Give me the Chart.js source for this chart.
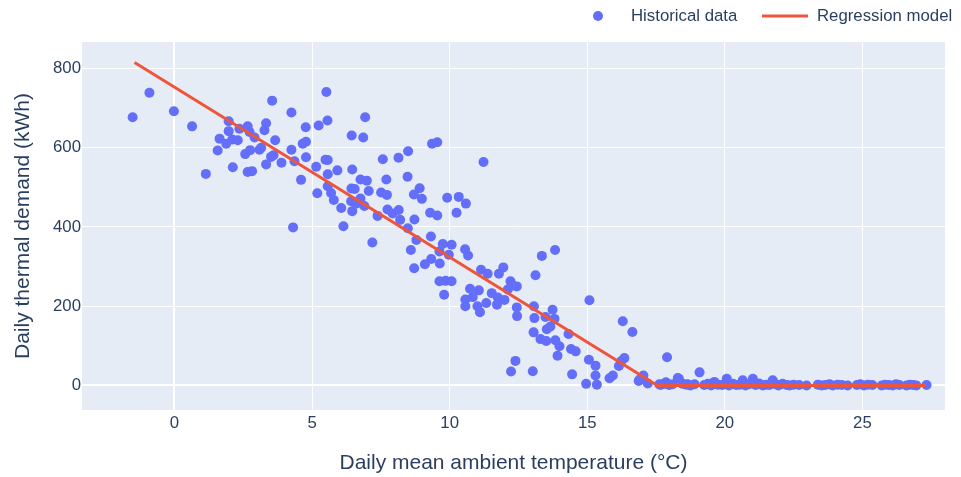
<!DOCTYPE html>
<html>
<head>
<meta charset="utf-8">
<script src="https://cdn.jsdelivr.net/npm/chart.js@4/dist/chart.umd.min.js"></script>
<style>
  html, body { margin: 0; padding: 0; background: #fff; }
  #wrap { position: relative; width: 961px; height: 477px; }
</style>
</head>
<body>
<div id="wrap"><canvas id="chart" width="961" height="477"></canvas></div>
<script>
// daily mean ambient temperature (°C) and daily thermal demand (kWh)
var tempC = [
  -1.52, -0.91, -0.02, 0.64, 1.14, 3.55, 4.25, 1.97, 1.97, 1.64, 1.57, 1.88, 2.10, 2.36, 2.30, 2.66, 2.73, 2.91, 3.27, 3.33,
  3.66, 2.57, 2.75, 3.09, 3.15, 3.51, 3.60, 3.33, 3.89, 2.12, 2.66, 2.82, 4.25, 4.36, 4.60, 4.31,
  5.52, 4.77, 5.24, 5.56, 6.93, 6.44, 6.86, 4.66, 4.78, 4.78, 5.49, 5.57, 5.15, 5.57, 5.92, 6.46, 7.57, 8.14, 8.49, 9.36,
  9.55, 11.23, 5.57, 5.19, 5.69, 5.79, 6.06, 6.46, 6.76, 6.99, 6.43, 6.55, 7.06, 6.42, 6.60, 6.76, 6.90, 7.70, 8.47, 7.51,
  7.72, 8.91, 8.70, 8.99, 7.74, 8.15, 7.93, 8.20, 7.38, 8.72, 9.29, 9.55, 9.91, 10.33, 10.59, 10.25, 6.14,
  7.19, 8.48, 9.32, 8.79, 8.59, 9.75, 10.07, 9.63, 9.97, 9.33, 9.10, 9.64, 8.71, 10.56, 10.67, 9.63, 9.85, 10.07, 9.80,
  11.14, 11.38, 11.79, 10.74, 11.06, 10.84, 10.57, 10.57, 11.01, 11.10, 11.33, 11.53, 11.72,
  11.95, 11.75, 11.99, 12.21, 12.44, 12.30, 12.11, 12.44, 12.45, 13.12, 13.35, 13.83, 13.06, 13.08, 13.48, 13.74, 13.81,
  13.05, 13.53, 13.66, 13.30, 13.51, 13.84, 13.99, 13.92, 14.32, 14.41, 14.58, 12.39, 12.23, 13.02, 14.45, 15.08, 15.06,
  15.30, 15.30, 14.96, 15.35, 15.81, 15.93, 16.15, 16.23, 16.35, 16.29, 16.64, 16.90, 17.04, 17.20, 17.90, 17.68, 17.86, 18.29,
  16.87, 17.62, 17.93, 18.33, 18.47, 18.65, 19.08, 19.62, 20.07, 20.65, 21.02, 21.74,
  17.65, 17.80, 17.98, 18.10, 18.60, 18.75, 18.90, 19.25, 19.38, 19.50, 19.75, 19.90, 20.00, 20.15, 20.30, 20.42, 20.55,
  20.75, 20.88, 21.12, 21.25, 21.38, 21.50, 21.62, 21.85, 21.95, 22.10, 22.25, 22.35, 22.50, 22.70, 22.97, 23.38, 23.52,
  23.65, 23.80, 23.92, 24.10, 24.25, 24.46, 24.80, 24.92, 25.05, 25.20, 25.36, 25.70, 25.82, 25.95, 26.10, 26.22, 26.34,
  26.60, 26.72, 26.85, 26.96, 27.33
];
var demandKWh = [
  677, 739, 692, 654, 534, 719, 689, 667, 642, 623, 593, 610, 621, 648, 619, 654, 640, 626, 644, 662,
  619, 584, 594, 595, 600, 577, 581, 558, 562, 551, 539, 541, 595, 566, 519, 399,
  741, 652, 656, 669, 677, 631, 626, 610, 615, 576, 570, 569, 552, 533, 543, 545, 571, 575, 591, 610,
  614, 564, 503, 485, 486, 468, 448, 440, 520, 517, 497, 496, 491, 465, 459, 472, 453, 520, 527, 487,
  481, 498, 482, 471, 444, 443, 434, 418, 428, 419, 436, 429, 474, 476, 459, 436, 402,
  361, 397, 376, 367, 342, 357, 355, 338, 330, 319, 306, 308, 296, 344, 328, 263, 264, 263, 229,
  292, 282, 282, 244, 240, 223, 217, 200, 200, 185, 208, 233, 204,
  298, 222, 216, 263, 250, 252, 242, 197, 175, 278, 327, 342, 200, 170, 173, 191, 168,
  134, 142, 149, 117, 112, 114, 99, 75, 130, 92, 86, 62, 35, 36, 28, 215, 65,
  50, 25, 4, 2, 18, 25, 49, 61, 69, 162, 135, 15, 25, 5, 71, 2, 8, 19,
  11, 3, 3, 17, 4, 3, 33, 9, 17, 13, 17, 13,
  2, 4, 1, 3, 2, 0, 3, 1, 4, 0, 2, 1, 3, 0, 4, 1, 2,
  0, 3, 1, 5, 0, 2, 1, 3, 0, 4, 1, 0, 2, 1, 0, 2, 0,
  1, 3, 0, 2, 1, 0, 1, 3, 0, 2, 1, 0, 2, 1, 0, 3, 1,
  0, 2, 1, 0, 1
];
// piecewise linear regression model vertices
var fitX = [-1.45, 17.55, 27.3];
var fitY = [815, 0, 0];

var seriesNames = ['Historical data', 'Regression model'];
var xTitle = 'Daily mean ambient temperature (°C)';
var yTitle = 'Daily thermal demand (kWh)';

var FONT = '"Liberation Sans", Arial, sans-serif';
var TEXT = '#2a3f5f';
var BLUE = '#636efa';
var RED = '#EF553B';

function toPoints(xs, ys) {
  var pts = [];
  for (let i = 0; i < xs.length; i++) pts.push({x: xs[i], y: ys[i]});
  return pts;
}

var plotBg = {
  id: 'plotBg',
  beforeDraw: function (chart) {
    var a = chart.chartArea, c = chart.ctx;
    c.save();
    c.fillStyle = '#E5ECF6';
    c.fillRect(a.left, a.top, a.right - a.left, a.bottom - a.top);
    c.restore();
  }
};

// plotly-like horizontal legend in the top right corner
var topLegend = {
  id: 'topLegend',
  afterDraw: function (chart) {
    var c = chart.ctx;
    c.save();
    c.font = '16.8px ' + FONT;
    c.textBaseline = 'middle';
    c.fillStyle = BLUE;
    c.beginPath();
    c.arc(598, 16, 5, 0, Math.PI * 2);
    c.fill();
    c.fillStyle = TEXT;
    c.fillText(seriesNames[0], 631, 16);
    c.strokeStyle = RED;
    c.lineWidth = 3;
    c.beginPath();
    c.moveTo(762, 16);
    c.lineTo(808, 16);
    c.stroke();
    c.fillText(seriesNames[1], 817, 16);
    c.restore();
  }
};

function gridWidth(ctx) {
  return ctx.tick && ctx.tick.value === 0 ? 2 : 1;
}

Chart.defaults.font.family = FONT;
Chart.defaults.color = TEXT;

ctx = document.getElementById('chart').getContext('2d');
var chart = new Chart(ctx, {
  type: 'scatter',
  data: {
    datasets: [
      {
        label: seriesNames[1],
        type: 'line',
        data: toPoints(fitX, fitY),
        borderColor: RED,
        backgroundColor: RED,
        borderWidth: 3,
        pointRadius: 0,
        fill: false,
        showLine: true,
        order: 0
      },
      {
        label: seriesNames[0],
        data: toPoints(tempC, demandKWh),
        backgroundColor: BLUE,
        borderWidth: 0,
        pointRadius: 5,
        pointHoverRadius: 5,
        order: 1
      }
    ]
  },
  options: {
    responsive: false,
    animation: false,
    layout: {padding: {top: 42, right: 16, left: 0, bottom: 0}},
    plugins: {legend: {display: false}, tooltip: {enabled: false}},
    scales: {
      x: {
        type: 'linear',
        min: -3.36,
        max: 28.0,
        afterFit: function (s) { s.height = 67; },
        border: {display: false},
        grid: {color: '#ffffff', lineWidth: gridWidth, drawTicks: false},
        ticks: {stepSize: 5, includeBounds: false, padding: 3, font: {size: 16.8}, color: TEXT},
        title: {display: true, text: xTitle, font: {size: 21}, color: TEXT, padding: {top: 0, bottom: 1}}
      },
      y: {
        type: 'linear',
        min: -62,
        max: 867,
        afterFit: function (s) { s.width = 82; },
        border: {display: false},
        grid: {color: '#ffffff', lineWidth: gridWidth, drawTicks: false},
        ticks: {stepSize: 200, includeBounds: false, padding: 1, font: {size: 16.8}, color: TEXT},
        title: {display: true, text: yTitle, font: {size: 21}, color: TEXT, padding: {top: 11, bottom: 0}}
      }
    }
  },
  plugins: [plotBg, topLegend]
});
</script>
</body>
</html>
